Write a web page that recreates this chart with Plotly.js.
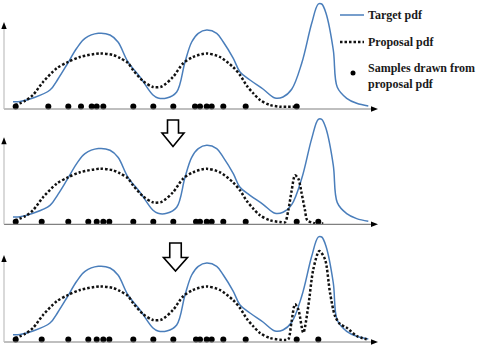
<!DOCTYPE html>
<html lang="en">
<head>
  <meta charset="UTF-8">
  <title>Target pdf / Proposal pdf</title>
  <script src="https://cdn.plot.ly/plotly-3.0.1.min.js"></script>
  <style>
    body { margin: 0; background: #fff; }
    #chart { width: 485px; height: 346px; }
  </style>
</head>
<body>
  <div id="chart"></div>
  <script>
    // target pdf (same curve in the three panels)
    const targetX = [13, 20, 33, 50, 58, 66.7, 76.7, 85, 98.3, 110, 118, 128, 140, 153, 158, 166.7, 176.7, 185, 191.7, 198.3, 206.7, 216.7, 223.3, 233.3, 240, 250, 263, 275, 283, 291.7, 301.7, 311.7, 318.3, 321.7, 326, 333.3, 337.3, 346.7, 356.7, 368.3];
    const targetY = [7.3, 7.5, 11, 19, 30, 44, 60.7, 70.7, 75.7, 74, 67, 47, 32, 14, 11, 11, 17, 47, 67, 75.7, 79, 75.7, 67, 50.7, 37, 29, 20, 11, 12, 19.7, 45.7, 85.7, 105, 105, 95.7, 59, 21.7, 10.7, 5.7, 3];

    // proposal pdf, common part
    const proposalBaseX = [15, 25, 33, 43, 56.7, 68, 80, 100, 113, 120, 128, 133, 143, 153, 161.7, 173, 183, 193, 206.7, 220, 233, 240, 247, 253, 260, 270, 280];
    const proposalBaseY = [4, 8, 14, 27, 40.7, 47, 52, 55.5, 54, 51, 46, 39, 28, 22, 22.5, 32, 45.5, 52, 55.5, 52, 42, 34, 23, 16, 9, 4, 2.3];
    // proposal pdf, tails per step
    const tail1X = [298];
    const tail1Y = [2.3];
    const tail2X = [285, 288.3, 291.7, 295, 298.3, 301.7, 305, 307.3, 313.3, 323.3];
    const tail2Y = [2, 14, 34, 49, 45.7, 30.7, 14, 4, 1.3, 0.7];
    const tail3X = [285, 288.3, 291.5, 295, 298.3, 303.3, 308.3, 313.3, 319.3, 325, 330, 335, 340, 346.7, 356.7, 366.7];
    const tail3Y = [2, 2.7, 20, 37.7, 32.7, 9.3, 36, 72.7, 91, 82.7, 49.3, 26, 18, 14.3, 6, 2.7];

    // samples drawn from proposal pdf
    const samples1X = [15.7, 48.3, 68.3, 81, 91.7, 96.7, 103.3, 133.3, 153.3, 173.3, 195, 200, 206.7, 211.7, 223.3, 245.7, 296.7];
    const samples2X = [15.7, 41.7, 68.3, 88.3, 96.7, 103.3, 109.3, 133.3, 153.3, 173.3, 196, 200, 206.7, 211.7, 223.3, 245.7, 296.7, 318.3];
    const samples3X = samples2X;
    const sampleLevel = 2.5;

    const W = 485, H = 346;
    const baselines = [109, 224.3, 342];
    const yLo = -3, yHi = 108;
    const px = x => x / W;
    const py = y => 1 - y / H;

    const BLUE = '#4a7ebb';
    const dotDash = '2.5px,2px';

    const panels = [
      { px: proposalBaseX.concat(tail1X), py: proposalBaseY.concat(tail1Y), sx: samples1X },
      { px: proposalBaseX.concat(tail2X), py: proposalBaseY.concat(tail2Y), sx: samples2X },
      { px: proposalBaseX.concat(tail3X), py: proposalBaseY.concat(tail3Y), sx: samples3X }
    ];

    const data = [];
    const layout = {
      width: W, height: H,
      margin: { l: 0, r: 0, t: 0, b: 0 },
      paper_bgcolor: '#fff', plot_bgcolor: 'rgba(0,0,0,0)',
      showlegend: false,
      shapes: [], annotations: []
    };

    panels.forEach((p, i) => {
      const n = i === 0 ? '' : String(i + 1);
      const xa = 'x' + n, ya = 'y' + n;
      const b = baselines[i];
      layout['xaxis' + n] = { domain: [0, 1], range: [0, W], visible: false, anchor: ya, fixedrange: true };
      layout['yaxis' + n] = {
        domain: [(H - (b - yLo)) / H, (H - (b - yHi)) / H],
        range: [yLo, yHi], visible: false, anchor: xa, fixedrange: true
      };

      data.push({
        x: targetX, y: targetY, xaxis: xa, yaxis: ya, type: 'scatter', mode: 'lines',
        line: { color: BLUE, width: 1.5, shape: 'spline', smoothing: 1 }, name: 'Target pdf'
      });
      data.push({
        x: p.px, y: p.py, xaxis: xa, yaxis: ya, type: 'scatter', mode: 'lines',
        line: { color: '#111', width: 2.5, dash: dotDash, shape: 'spline', smoothing: 0.8 }, name: 'Proposal pdf'
      });
      data.push({
        x: p.sx, y: p.sx.map(() => sampleLevel), xaxis: xa, yaxis: ya, type: 'scatter', mode: 'markers',
        marker: { color: '#000', size: 6 }, name: 'Samples drawn from proposal pdf'
      });

      // axes with arrow heads
      layout.shapes.push(
        { type: 'line', xref: xa, yref: ya, x0: 4, x1: 372, y0: 0, y1: 0, line: { color: '#808080', width: 1.2 } },
        { type: 'path', xref: xa, yref: ya, path: 'M 378 0 L 371 -2.8 L 371 2.8 Z', fillcolor: '#000', line: { width: 0 } },
        { type: 'line', xref: xa, yref: ya, x0: 4, x1: 4, y0: 0, y1: 80, line: { color: '#c0c0c0', width: 1.2 } },
        { type: 'path', xref: xa, yref: ya, path: 'M 4 87 L 1.3 80 L 6.7 80 Z', fillcolor: '#000', line: { width: 0 } }
      );
    });

    // hollow down arrows between steps
    function blockArrow(cx, top, headY, tip, sw, hw) {
      const pts = [
        [cx - sw / 2, top], [cx + sw / 2, top], [cx + sw / 2, headY], [cx + hw / 2, headY],
        [cx, tip], [cx - hw / 2, headY], [cx - sw / 2, headY]
      ];
      return {
        type: 'path', xref: 'paper', yref: 'paper',
        path: 'M ' + pts.map(q => px(q[0]) + ' ' + py(q[1])).join(' L ') + ' Z',
        fillcolor: '#fff', line: { color: '#000', width: 1.6 }
      };
    }
    layout.shapes.push(blockArrow(173, 120, 133, 146.5, 11, 22));
    layout.shapes.push(blockArrow(175.5, 243, 257.5, 271, 11.5, 24));

    // legend
    layout.shapes.push(
      { type: 'line', xref: 'paper', yref: 'paper', x0: px(340), x1: px(364), y0: py(15), y1: py(15), line: { color: BLUE, width: 1.5 } },
      { type: 'line', xref: 'paper', yref: 'paper', x0: px(340), x1: px(364), y0: py(42), y1: py(42), line: { color: '#111', width: 2.5, dash: dotDash } },
      { type: 'circle', xref: 'paper', yref: 'paper', x0: px(350.5), x1: px(355.5), y0: py(70.5), y1: py(75.5), fillcolor: '#000', line: { width: 0 } }
    );
    const legendFont = { family: 'Liberation Serif, Times New Roman, serif', size: 12, color: '#1a1a1a' };
    const legendText = [
      ['<b>Target pdf</b>', 15],
      ['<b>Proposal pdf</b>', 42],
      ['<b>Samples drawn from</b><br><b>proposal pdf</b>', 75.5]
    ];
    legendText.forEach(t => {
      layout.annotations.push({
        xref: 'paper', yref: 'paper', x: px(366), y: py(t[1]), xanchor: 'left', yanchor: 'middle',
        text: t[0], showarrow: false, align: 'left', font: legendFont
      });
    });

    Plotly.newPlot('chart', data, layout, { staticPlot: true, displayModeBar: false });
  </script>
</body>
</html>
